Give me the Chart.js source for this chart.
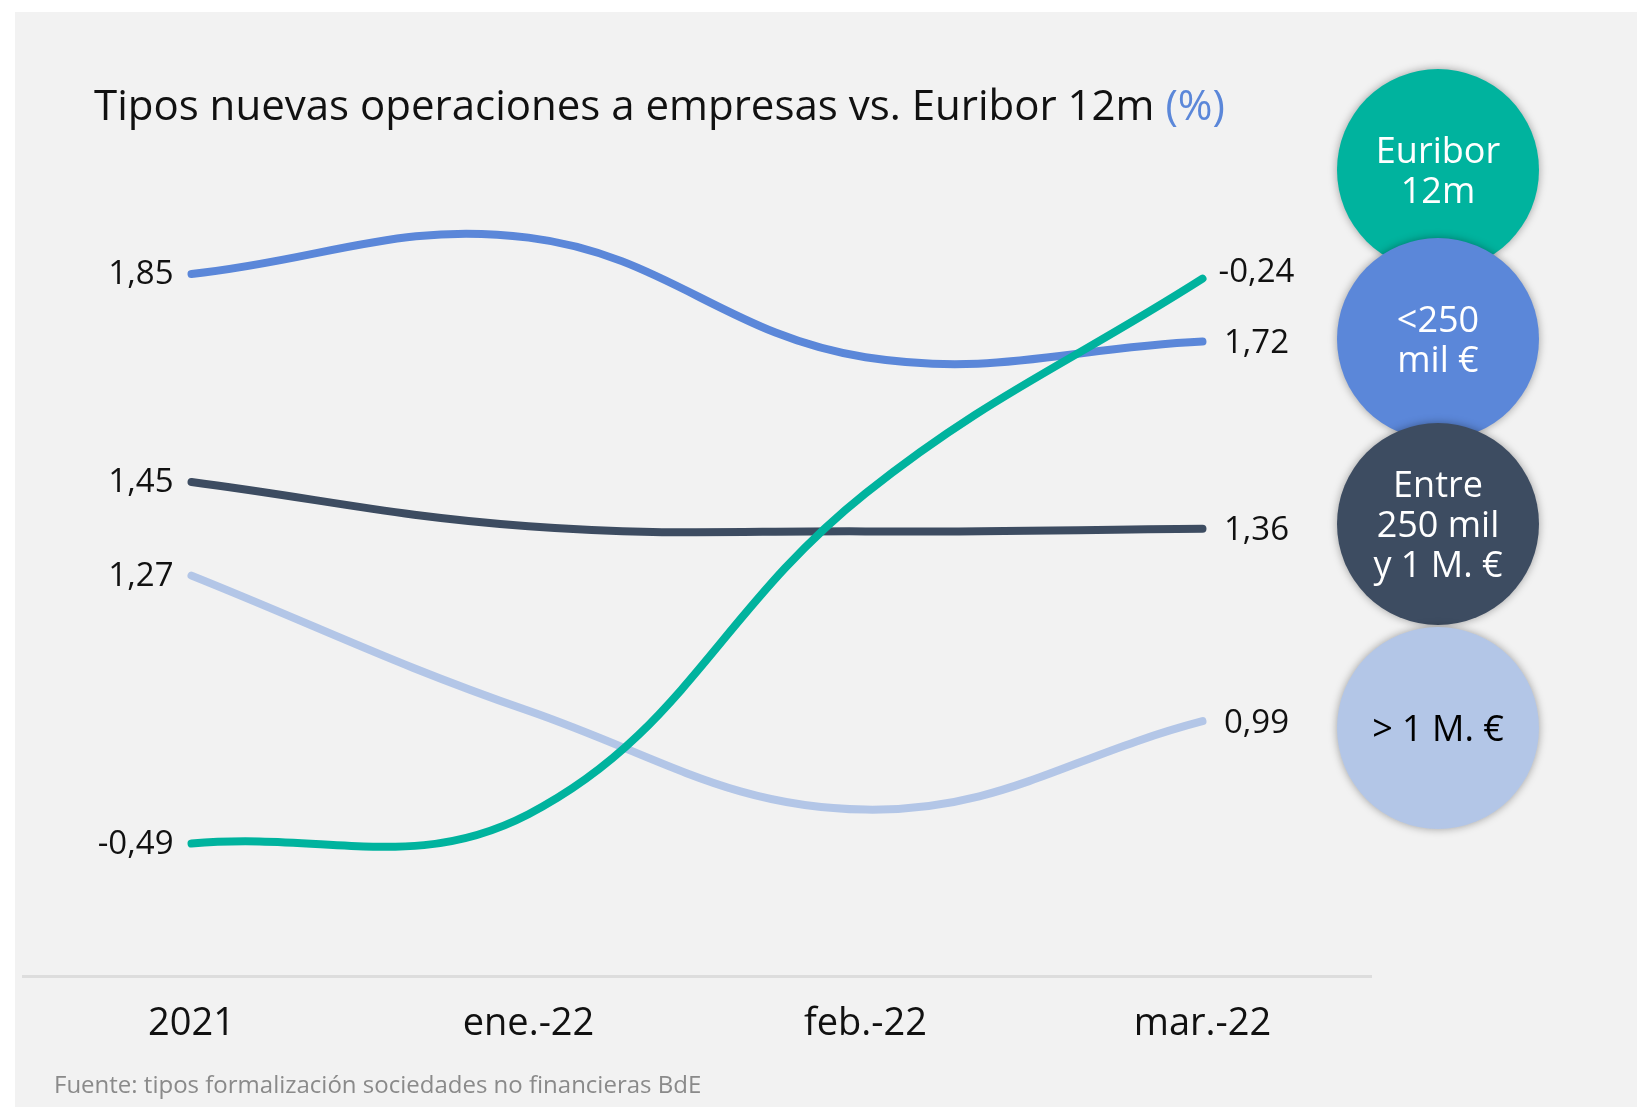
<!DOCTYPE html>
<html lang="es">
<head>
<meta charset="utf-8">
<title>Tipos nuevas operaciones a empresas vs. Euribor 12m</title>
<script src="https://cdn.jsdelivr.net/npm/chart.js@4"></script>
<style>
  html, body { margin: 0; padding: 0; background: #fff; }
  body { width: 1637px; height: 1107px; position: relative; overflow: hidden; font-family: "Open Sans", sans-serif; }
  .panel { position: absolute; left: 15px; top: 12px; right: 0; bottom: 0; background: #f2f2f2; }
  #chart { position: absolute; left: 0; top: 0; }
  .title { position: absolute; left: 94px; top: 83px; font-size: 42px; line-height: 42px; color: #111; white-space: nowrap; }
  .title span { color: #5b87d9; }
  .source { position: absolute; left: 54px; top: 1069px; font-size: 24px; line-height: 30px; color: #8a8a8a; white-space: nowrap; }
  .bubble { position: absolute; width: 202px; height: 202px; border-radius: 50%; left: 1337px;
    display: flex; align-items: center; justify-content: center; text-align: center;
    font-size: 36px; line-height: 40px; color: #fff; box-shadow: 0 0 9px rgba(0,0,0,0.35); }
</style>
</head>
<body>
<div class="panel"></div>
<canvas id="chart" width="1637" height="1107"></canvas>
<div class="title">Tipos nuevas operaciones a empresas vs. Euribor 12m <span>(%)</span></div>
<div id="legend"></div>
<div class="source">Fuente: tipos formalización sociedades no financieras BdE</div>

<script>
// periodos del eje x
const periodos = ["2021", "ene.-22", "feb.-22", "mar.-22"];

// tipos (%) por tramo de importe y Euribor 12m
const euribor = [-0.49, -0.477, -0.335, -0.24];
const menos250 = [1.85, 1.92, 1.69, 1.72];
const entre250y1M = [1.45, 1.365, 1.355, 1.36];
const mas1M = [1.27, 1.01, 0.82, 0.99];

const nombres = ["Euribor\n12m", "<250\nmil €", "Entre\n250 mil\ny 1 M. €", "> 1 M. €"];
const colores = ["#00b39e", "#5b87d9", "#3d4c61", "#b3c6e7"];
const coloresTexto = ["#fff", "#fff", "#fff", "#000"];

// leyenda en círculos a la derecha
const centrosLeyenda = [170, 339, 524, 728];
const legend = document.getElementById("legend");
nombres.forEach((n, i) => {
  const b = document.createElement("div");
  b.className = "bubble";
  b.style.top = (centrosLeyenda[i] - 101) + "px";
  b.style.background = colores[i];
  b.style.color = coloresTexto[i];
  b.innerHTML = n.split("\n").join("<br>");
  legend.appendChild(b);
});

const fmt = v => v.toFixed(2).replace(".", ",");

// etiquetas de valor al inicio y al final de cada línea
const etiquetasExtremos = {
  id: "etiquetasExtremos",
  afterDatasetsDraw(chart) {
    const ctx = chart.ctx;
    ctx.save();
    ctx.font = '33px "Open Sans"';
    ctx.fillStyle = "#111";
    ctx.textBaseline = "middle";
    chart.data.datasets.forEach((ds, i) => {
      const pts = chart.getDatasetMeta(i).data;
      const first = pts[0];
      const last = pts[pts.length - 1];
      ctx.textAlign = "right";
      ctx.fillText(fmt(ds.data[0]), first.x - 18, first.y + 1);
      ctx.textAlign = "center";
      ctx.fillText(fmt(ds.data[ds.data.length - 1]), last.x + 54, last.y + 2 + (ds.desplazamiento || 0));
    });
    ctx.restore();
  }
};

function serie(label, data, color, eje, extra) {
  return Object.assign({
    label: label,
    data: data,
    yAxisID: eje,
    borderColor: color,
    backgroundColor: color,
    borderWidth: 8,
    borderCapStyle: "round",
    pointRadius: 0,
    tension: 0.4,
    fill: false
  }, extra || {});
}

new Chart(document.getElementById("chart"), {
  type: "line",
  data: {
    labels: periodos,
    datasets: [
      serie("Euribor 12m", euribor, colores[0], "y2", { desplazamiento: -8 }),
      serie("<250 mil €", menos250, colores[1], "y"),
      serie("Entre 250 mil y 1 M. €", entre250y1M, colores[2], "y"),
      serie("> 1 M. €", mas1M, colores[3], "y")
    ]
  },
  options: {
    responsive: false,
    animation: false,
    layout: { padding: { left: 23, right: 266, top: 40, bottom: 0 } },
    plugins: { legend: { display: false }, tooltip: { enabled: false } },
    scales: {
      x: {
        offset: true,
        grid: { display: false, drawTicks: false },
        border: { display: true, color: "#dddddd", width: 3 },
        ticks: { color: "#111", padding: 25, font: { family: "Open Sans", size: 38 } },
        afterFit: s => { s.height = 131; }
      },
      y: { display: false, min: 0.5, max: 2.3 },
      y2: { display: false, min: -0.5486, max: -0.1344 }
    }
  },
  plugins: [etiquetasExtremos]
});
</script>
</body>
</html>
